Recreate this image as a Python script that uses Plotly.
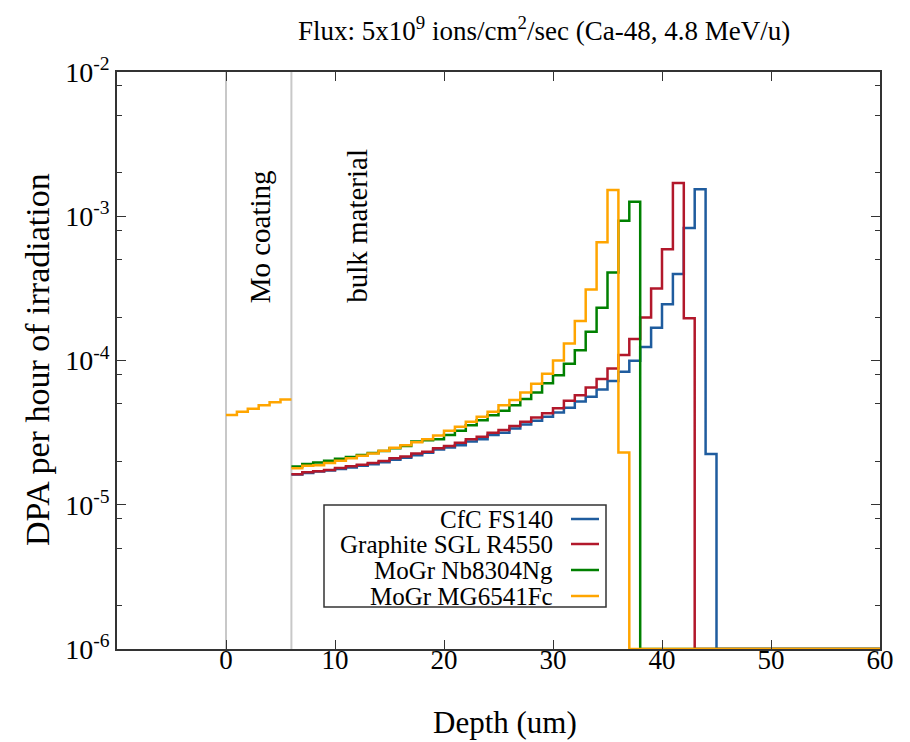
import plotly.graph_objects as go

# ---------------- data ----------------
series_names = ["CfC FS140", "Graphite SGL R4550", "MoGr Nb8304Ng", "MoGr MG6541Fc"]
series_colors = ["#1f5c9e", "#b2182b", "#008000", "#ffa500"]

bulk_start = 6          # um, first bin of bulk material
coating_start = 0       # um, first bin of the Mo coating
depth_end = 60          # um
dpa_floor = 1e-6

cfc_fs140 = [1.62e-5, 1.66e-5, 1.70e-5, 1.73e-5, 1.77e-5, 1.81e-5, 1.86e-5, 1.91e-5, 1.97e-5, 2.05e-5,
             2.12e-5, 2.20e-5, 2.29e-5, 2.42e-5, 2.49e-5, 2.59e-5, 2.74e-5, 2.84e-5, 3.04e-5, 3.15e-5,
             3.38e-5, 3.60e-5, 3.82e-5, 4.07e-5, 4.36e-5, 4.70e-5, 5.20e-5, 5.60e-5, 6.30e-5, 7.20e-5,
             8.35e-5, 9.95e-5, 1.24e-4, 1.69e-4, 2.45e-4, 3.97e-4, 8.30e-4, 1.54e-3, 2.25e-5]
graphite_r4550 = [1.63e-5, 1.68e-5, 1.71e-5, 1.74e-5, 1.80e-5, 1.85e-5, 1.89e-5, 1.95e-5, 2.01e-5, 2.10e-5,
                  2.16e-5, 2.27e-5, 2.33e-5, 2.46e-5, 2.55e-5, 2.69e-5, 2.84e-5, 2.96e-5, 3.15e-5, 3.30e-5,
                  3.51e-5, 3.76e-5, 4.03e-5, 4.30e-5, 4.66e-5, 5.26e-5, 5.75e-5, 6.50e-5, 7.43e-5, 8.80e-5,
                  1.09e-4, 1.41e-4, 1.99e-4, 3.16e-4, 5.90e-4, 1.70e-3, 1.96e-4]
mogr_nb8304ng = [1.84e-5, 1.92e-5, 1.96e-5, 2.02e-5, 2.08e-5, 2.14e-5, 2.21e-5, 2.28e-5, 2.36e-5, 2.46e-5,
                 2.55e-5, 2.74e-5, 2.80e-5, 2.85e-5, 3.04e-5, 3.26e-5, 3.56e-5, 3.86e-5, 4.18e-5, 4.48e-5,
                 4.90e-5, 5.40e-5, 6.00e-5, 6.95e-5, 7.90e-5, 9.50e-5, 1.18e-4, 1.58e-4, 2.32e-4, 4.07e-4,
                 9.30e-4, 1.26e-3]
mogr_mg6541fc = [1.79e-5, 1.86e-5, 1.88e-5, 1.95e-5, 2.02e-5, 2.10e-5, 2.19e-5, 2.27e-5, 2.37e-5, 2.48e-5,
                 2.59e-5, 2.71e-5, 2.84e-5, 3.02e-5, 3.26e-5, 3.47e-5, 3.76e-5, 4.07e-5, 4.41e-5, 4.90e-5,
                 5.32e-5, 6.00e-5, 6.90e-5, 8.10e-5, 1.00e-4, 1.31e-4, 1.88e-4, 3.11e-4, 6.60e-4, 1.52e-3,
                 2.30e-5]
mogr_mg6541fc_coating = [4.19e-5, 4.41e-5, 4.63e-5, 4.90e-5, 5.13e-5, 5.37e-5]

layer_bounds = [0, 6]
x_ticks = [0, 10, 20, 30, 40, 50, 60]
y_ticks = [1e-6, 1e-5, 1e-4, 1e-3, 1e-2]
y_ticktext = ["10<sup>-6</sup>", "10<sup>-5</sup>", "10<sup>-4</sup>", "10<sup>-3</sup>", "10<sup>-2</sup>"]
y_minor = [m * 10.0 ** e for e in range(-6, -2) for m in (2, 5, 8)]

bulk_series = [cfc_fs140, graphite_r4550, mogr_nb8304ng, mogr_mg6541fc]

# ---------------- figure ----------------
fig = go.Figure()


def step_xy(start, vals, tail=True):
    xs = list(range(start, start + len(vals) + 1))
    ys = list(vals) + [vals[-1]]
    if tail:
        xs = xs[:-1] + [start + len(vals), depth_end]
        ys = list(vals) + [dpa_floor, dpa_floor]
    return xs, ys


for name, color, vals in zip(series_names, series_colors, bulk_series):
    xs, ys = step_xy(bulk_start, vals)
    fig.add_trace(go.Scatter(x=xs, y=ys, mode="lines", name=name,
                             line=dict(color=color, width=2.5, shape="hv"),
                             cliponaxis=True, showlegend=False))

# Mo coating (only shown for MG6541Fc)
xs, ys = step_xy(coating_start, mogr_mg6541fc_coating, tail=False)
fig.add_trace(go.Scatter(x=xs, y=ys, mode="lines", name=series_names[3] + " (Mo coating)",
                         line=dict(color=series_colors[3], width=2.5, shape="hv"), showlegend=False))

# layer boundaries
for b in layer_bounds:
    fig.add_shape(type="line", xref="x", yref="paper", x0=b, x1=b, y0=0, y1=1,
                  line=dict(color="#c8c8c8", width=2), layer="below")

font_family = "Liberation Serif"
L, R, T, B = 117, 30, 72, 93
W, H = 910, 742
pw, ph = W - L - R, H - T - B


def px(x):
    return (x - L) / pw


def py(y):
    return (H - B - y) / ph


annotations = [
    dict(text="Flux: 5x10<sup>9</sup> ions/cm<sup>2</sup>/sec (Ca-48, 4.8 MeV/u)",
         x=px(544), y=py(29), xref="paper", yref="paper", showarrow=False,
         xanchor="center", yanchor="middle", font=dict(size=27)),
    dict(text="DPA per hour of irradiation", x=px(37), y=py(360), xref="paper", yref="paper",
         showarrow=False, textangle=-90, xanchor="center", yanchor="middle", font=dict(size=34)),
    dict(text="Depth (um)", x=px(505), y=py(722), xref="paper", yref="paper",
         showarrow=False, xanchor="center", yanchor="middle", font=dict(size=31)),
    dict(text="Mo coating", x=3.1, y=py(305), xref="x", yref="paper", showarrow=False,
         textangle=-90, xanchor="center", yanchor="bottom", font=dict(size=29)),
    dict(text="bulk material", x=12.0, y=py(305), xref="x", yref="paper", showarrow=False,
         textangle=-90, xanchor="center", yanchor="bottom", font=dict(size=29)),
]

# custom gnuplot-style legend (text right, sample line on the right)
legend_rows_y = [519, 544, 570, 596]
fig.add_shape(type="rect", xref="paper", yref="paper", x0=px(324), x1=px(606), y0=py(607), y1=py(505),
              line=dict(color="#333333", width=1.5), fillcolor="white", layer="above")
for name, color, ry in zip(series_names, series_colors, legend_rows_y):
    annotations.append(dict(text=name, x=px(555), y=py(ry), xref="paper", yref="paper", showarrow=False,
                            xanchor="right", yanchor="middle", font=dict(size=25)))
    fig.add_shape(type="line", xref="paper", yref="paper", x0=px(571), x1=px(599), y0=py(ry), y1=py(ry),
                  line=dict(color=color, width=2.5), layer="above")

fig.update_layout(
    width=W, height=H, margin=dict(l=L, r=R, t=T, b=B, autoexpand=False),
    plot_bgcolor="white", paper_bgcolor="white",
    font=dict(family=font_family, size=25, color="black"),
    showlegend=False, annotations=annotations,
    xaxis=dict(range=[-10, 60], tickvals=x_ticks, ticks="inside", ticklen=9, tickwidth=1.2,
               tickcolor="#333333", showline=True, linecolor="#333333", linewidth=1.5, mirror="ticks",
               showgrid=False, zeroline=False, tickfont=dict(size=27), ticklabelstandoff=-14),
    yaxis=dict(type="log", range=[-6, -2], tickvals=y_ticks, ticktext=y_ticktext, ticks="inside",
               ticklen=9, tickwidth=1.2, tickcolor="#333333", showline=True, linecolor="#333333",
               linewidth=1.5, mirror="ticks", showgrid=False, zeroline=False, tickfont=dict(size=28),
               minor=dict(tickvals=y_minor, ticks="inside", ticklen=5, tickcolor="#333333", showgrid=False)),
)

fig.write_html("out.html")
